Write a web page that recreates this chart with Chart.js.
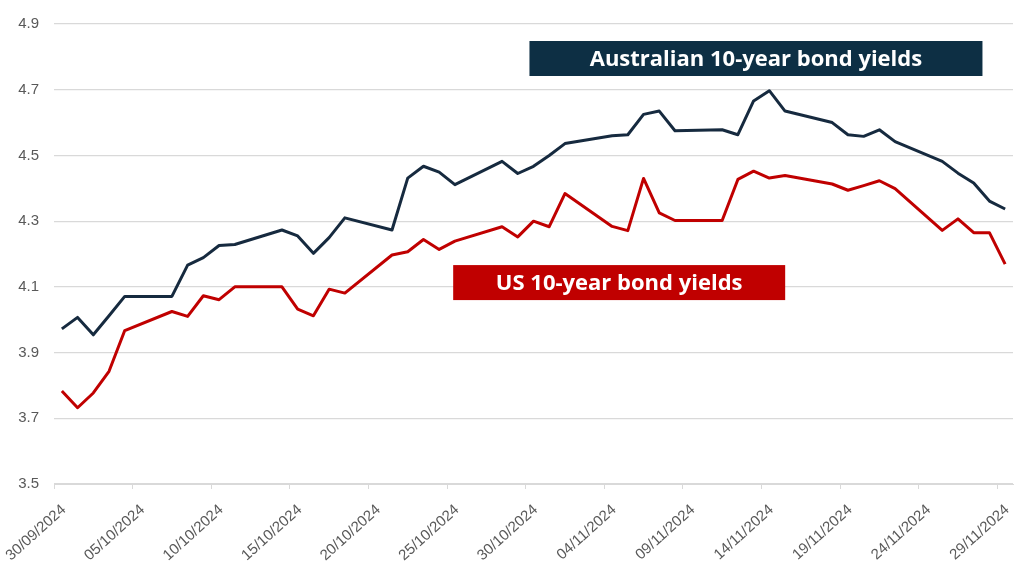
<!DOCTYPE html>
<html>
<head>
<meta charset="utf-8">
<script src="https://cdn.jsdelivr.net/npm/chart.js@4.4.1/dist/chart.umd.min.js"></script>
<style>
  html, body { margin: 0; padding: 0; background: #ffffff; }
  #wrap { width: 1024px; height: 574px; }
</style>
</head>
<body>
<div id="wrap"><canvas id="bondChart" width="1024" height="574"></canvas></div>
<script>
// trading days shown on the chart
var dates = [
    '30/09/2024', '01/10/2024', '02/10/2024', '03/10/2024', '04/10/2024',
    '07/10/2024', '08/10/2024', '09/10/2024', '10/10/2024', '11/10/2024',
    '14/10/2024', '15/10/2024', '16/10/2024', '17/10/2024', '18/10/2024',
    '21/10/2024', '22/10/2024', '23/10/2024', '24/10/2024', '25/10/2024',
    '28/10/2024', '29/10/2024', '30/10/2024', '31/10/2024', '01/11/2024',
    '04/11/2024', '05/11/2024', '06/11/2024', '07/11/2024', '08/11/2024',
    '11/11/2024', '12/11/2024', '13/11/2024', '14/11/2024', '15/11/2024',
    '18/11/2024', '19/11/2024', '20/11/2024', '21/11/2024', '22/11/2024',
    '25/11/2024', '26/11/2024', '27/11/2024', '28/11/2024', '29/11/2024'
];

var ausYields = [
    3.972, 4.007, 3.954, 4.012, 4.071,
    4.071, 4.166, 4.189, 4.226, 4.229,
    4.273, 4.255, 4.202, 4.250, 4.310,
    4.273, 4.431, 4.467, 4.449, 4.411,
    4.482, 4.445, 4.467, 4.500, 4.536,
    4.560, 4.563, 4.625, 4.635, 4.575,
    4.578, 4.563, 4.666, 4.697, 4.635,
    4.600, 4.563, 4.558, 4.578, 4.542,
    4.482, 4.446, 4.416, 4.361, 4.337
];

var usYields = [
    3.783, 3.732, 3.777, 3.843, 3.967,
    4.025, 4.010, 4.073, 4.061, 4.100,
    4.100, 4.032, 4.012, 4.093, 4.081,
    4.197, 4.207, 4.244, 4.214, 4.239,
    4.283, 4.252, 4.300, 4.283, 4.384,
    4.284, 4.271, 4.430, 4.325, 4.302,
    4.302, 4.427, 4.452, 4.431, 4.439,
    4.413, 4.394, 4.408, 4.423, 4.399,
    4.272, 4.307, 4.265, 4.265, 4.169
];

var tickLabels = [
    '30/09/2024', '05/10/2024', '10/10/2024', '15/10/2024', '20/10/2024',
    '25/10/2024', '30/10/2024', '04/11/2024', '09/11/2024', '14/11/2024',
    '19/11/2024', '24/11/2024', '29/11/2024'
];

var yTicks = [3.5, 3.7, 3.9, 4.1, 4.3, 4.5, 4.7, 4.9];

var seriesNames = ['Australian 10-year bond yields', 'US 10-year bond yields'];

// days counted from the first axis date
function dayOffset(str) {
    var p = str.split('/');
    var t = Date.UTC(+p[2], +p[1] - 1, +p[0]);
    var s = tickLabels[0].split('/');
    var t0 = Date.UTC(+s[2], +s[1] - 1, +s[0]);
    return Math.round((t - t0) / 86400000);
}

function $each(arr, fn) { for (var i = 0; i < arr.length; i++) fn(i, arr[i]); }

// points sit in the middle of their day, ticks on the day boundary
function toPoints(values) {
    var pts = [];
    $each(dates, function (i, d) {
        pts.push({ x: dayOffset(d) + 0.5, y: values[i] });
    });
    return pts;
}

var navy = '#162a3f';
var red = '#c00000';
var gridColor = '#d9d9d9';
var tickColor = '#595959';

// labelled boxes, placed in axis units
var boxes = [
    { text: seriesNames[0], x: 44.65, y: 4.795, w: 453, h: 35, color: '#0d2f44' },
    { text: seriesNames[1], x: 35.95, y: 4.113, w: 332, h: 35, color: red }
];

var boxPlugin = {
    id: 'seriesBoxes',
    afterDatasetsDraw: function (chart) {
        var ctx = chart.ctx;
        var xs = chart.scales.x, ys = chart.scales.y;
        ctx.save();
        $each(boxes, function (i, b) {
            var cx = xs.getPixelForValue(b.x);
            var cy = ys.getPixelForValue(b.y);
            ctx.fillStyle = b.color;
            ctx.fillRect(cx - b.w / 2, cy - b.h / 2, b.w, b.h);
            ctx.fillStyle = '#ffffff';
            ctx.font = 'bold 22px "Open Sans"';
            ctx.textAlign = 'center';
            ctx.textBaseline = 'middle';
            ctx.fillText(b.text, cx, cy + 1);
        });
        ctx.restore();
    }
};

var ctx = document.getElementById('bondChart').getContext('2d');
var chart = new Chart(ctx, {
    type: 'line',
    data: {
        datasets: [
            {
                label: seriesNames[0],
                data: toPoints(ausYields),
                borderColor: navy,
                borderWidth: 3,
                pointRadius: 0,
                tension: 0,
                borderJoinStyle: 'round'
            },
            {
                label: seriesNames[1],
                data: toPoints(usYields),
                borderColor: red,
                borderWidth: 3,
                pointRadius: 0,
                tension: 0,
                borderJoinStyle: 'round'
            }
        ]
    },
    options: {
        responsive: false,
        animation: false,
        layout: { padding: { top: 22, right: 11, left: 0, bottom: 0 } },
        plugins: {
            legend: { display: false },
            tooltip: { enabled: false }
        },
        scales: {
            x: {
                type: 'linear',
                min: 0,
                max: 61,
                afterBuildTicks: function (scale) {
                    scale.ticks = tickLabels.map(function (l) { return { value: dayOffset(l) }; });
                },
                afterFit: function (scale) {
                    scale.height = 90;
                    scale.paddingLeft = 0;
                    scale.paddingRight = 0;
                },
                grid: {
                    drawOnChartArea: false,
                    drawTicks: true,
                    tickLength: 5,
                    color: gridColor
                },
                border: { display: true, color: gridColor, width: 1 },
                ticks: {
                    autoSkip: false,
                    minRotation: 42,
                    maxRotation: 42,
                    padding: 12,
                    labelOffset: 10,
                    color: tickColor,
                    font: { family: '"Liberation Sans", Arial, sans-serif', size: 15 },
                    callback: function (value, index) { return tickLabels[index]; }
                }
            },
            y: {
                min: yTicks[0],
                max: yTicks[yTicks.length - 1],
                afterBuildTicks: function (scale) {
                    scale.ticks = yTicks.map(function (v) { return { value: v }; });
                },
                afterFit: function (scale) { scale.width = 54; },
                grid: { color: gridColor, lineWidth: 1.2, drawTicks: false },
                border: { display: false },
                ticks: {
                    padding: 15,
                    color: tickColor,
                    font: { family: '"Liberation Sans", Arial, sans-serif', size: 15 },
                    callback: function (value) { return value.toFixed(1); }
                }
            }
        }
    },
    plugins: [boxPlugin]
});
</script>
</body>
</html>
